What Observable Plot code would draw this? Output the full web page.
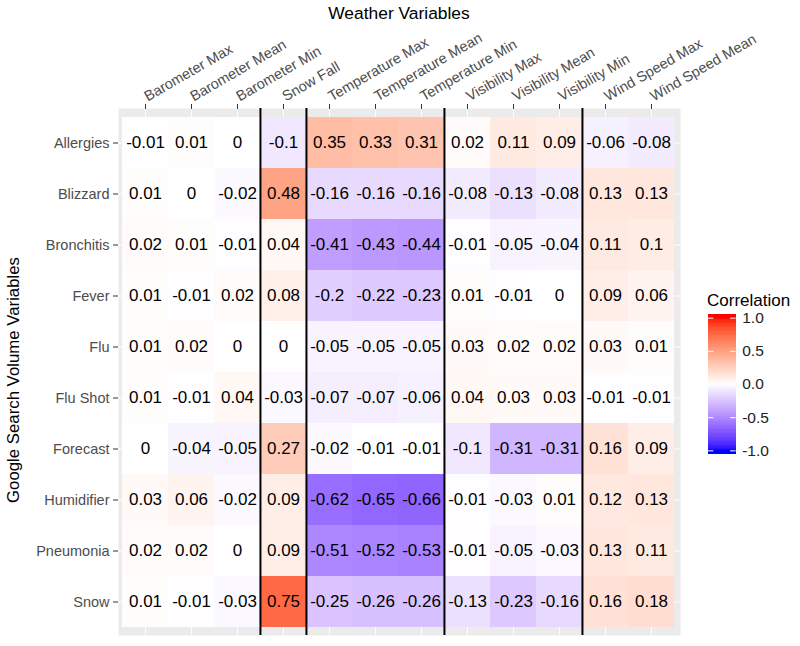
<!DOCTYPE html>
<html><head><meta charset="utf-8">
<script src="https://cdn.jsdelivr.net/npm/d3@7"></script>
<script src="https://cdn.jsdelivr.net/npm/@observablehq/plot@0.6"></script>
<style>
body{margin:0;background:#fff;font-family:"Liberation Sans",Arial,sans-serif;}
#wrap{position:relative;width:800px;height:646px;overflow:hidden;background:#fff}
#wrap svg{position:absolute}
.title{position:absolute;color:#000;white-space:nowrap;}
</style></head>
<body>
<div id="wrap">
  <div class="title" id="xt" style="left:0;width:798px;text-align:center;top:3px;font-size:17.4px;line-height:20px;">Weather Variables</div>
  <div class="title" id="yt" style="left:14px;top:380px;font-size:16.8px;line-height:20px;transform:translate(-50%,-50%) rotate(-90deg);">Google Search Volume Variables</div>
  <div class="title" id="lt" style="left:707px;top:291px;font-size:17px;line-height:20px;">Correlation</div>
</div>
<script>
const columns = ["Barometer Max","Barometer Mean","Barometer Min","Snow Fall","Temperature Max","Temperature Mean","Temperature Min","Visibility Max","Visibility Mean","Visibility Min","Wind Speed Max","Wind Speed Mean"];
const rows = ["Allergies","Blizzard","Bronchitis","Fever","Flu","Flu Shot","Forecast","Humidifier","Pneumonia","Snow"];
const allergies  = [-0.01, 0.01, 0, -0.1, 0.35, 0.33, 0.31, 0.02, 0.11, 0.09, -0.06, -0.08];
const blizzard   = [0.01, 0, -0.02, 0.48, -0.16, -0.16, -0.16, -0.08, -0.13, -0.08, 0.13, 0.13];
const bronchitis = [0.02, 0.01, -0.01, 0.04, -0.41, -0.43, -0.44, -0.01, -0.05, -0.04, 0.11, 0.1];
const fever      = [0.01, -0.01, 0.02, 0.08, -0.2, -0.22, -0.23, 0.01, -0.01, 0, 0.09, 0.06];
const flu        = [0.01, 0.02, 0, 0, -0.05, -0.05, -0.05, 0.03, 0.02, 0.02, 0.03, 0.01];
const fluShot    = [0.01, -0.01, 0.04, -0.03, -0.07, -0.07, -0.06, 0.04, 0.03, 0.03, -0.01, -0.01];
const forecast   = [0, -0.04, -0.05, 0.27, -0.02, -0.01, -0.01, -0.1, -0.31, -0.31, 0.16, 0.09];
const humidifier = [0.03, 0.06, -0.02, 0.09, -0.62, -0.65, -0.66, -0.01, -0.03, 0.01, 0.12, 0.13];
const pneumonia  = [0.02, 0.02, 0, 0.09, -0.51, -0.52, -0.53, -0.01, -0.05, -0.03, 0.13, 0.11];
const snow       = [0.01, -0.01, -0.03, 0.75, -0.25, -0.26, -0.26, -0.13, -0.23, -0.16, 0.16, 0.18];
const groupStarts = ["Snow Fall","Temperature Max","Visibility Max","Wind Speed Max"];
const legendTicks = [-1, -0.5, 0, 0.5, 1];

const rowValues = [allergies, blizzard, bronchitis, fever, flu, fluShot, forecast, humidifier, pneumonia, snow];
const table = [];
rows.forEach((r, i) => columns.forEach((c, j) => table.push({row: r, col: c, value: rowValues[i][j]})));

const colorScale = {type: "linear", domain: [-1, 0, 1], range: ["#0000FF", "#FFFFFF", "#FF0000"], interpolate: "lab", clamp: true};
const font = "'Liberation Sans', Arial, sans-serif";
const W = 800, ML = 118, MR = 120, IL = 3.7, IR = 5;
const bw = (W - ML - MR - IL - IR) / columns.length;

const main = Plot.plot({
  width: W, height: 646,
  marginLeft: ML, marginRight: MR, marginTop: 108, marginBottom: 11,
  style: {fontFamily: font, background: "transparent", overflow: "visible"},
  x: {type: "band", domain: columns, padding: 0, insetLeft: IL, insetRight: IR, axis: null},
  y: {type: "band", domain: rows, padding: 0, insetTop: 5, insetBottom: 4, axis: null},
  color: colorScale,
  marks: [
    Plot.frame({fill: "#EBEBEB", stroke: "none"}),
    Plot.gridX({stroke: "white", strokeOpacity: 1, strokeWidth: 1}),
    Plot.gridY({stroke: "white", strokeOpacity: 1, strokeWidth: 1}),
    Plot.cell(table, {x: "col", y: "row", fill: "value"}),
    Plot.text(table, {x: "col", y: "row", text: d => String(d.value), fontSize: 17, fill: "black"}),
    Plot.ruleX(groupStarts, {dx: -bw / 2, stroke: "black", strokeWidth: 2}),
    Plot.axisX({anchor: "top", tickRotate: -30, textAnchor: "start", tickSize: 5, tickPadding: 6, fontSize: 14.5, stroke: "#333333", fill: "#4D4D4D", label: null}),
    Plot.axisY({anchor: "left", tickSize: 5, tickPadding: 4, fontSize: 14.5, stroke: "#333333", fill: "#4D4D4D", label: null})
  ]
});
main.style.left = "0px"; main.style.top = "0px";
document.getElementById("wrap").appendChild(main);

const legendSteps = d3.range(-1.06, 1.06, 0.02);
const legend = Plot.plot({
  width: 100, height: 174,
  marginLeft: 7.7, marginRight: 64.3, marginTop: 24, marginBottom: 10,
  style: {fontFamily: font, fontSize: "15.5px", background: "transparent", overflow: "visible"},
  x: {domain: [0, 1], axis: null},
  y: {domain: [-1.055, 1.055], axis: null},
  color: colorScale,
  marks: [
    Plot.rect(legendSteps, {x1: 0, x2: 1, y1: d => Math.max(d, -1.055), y2: d => Math.min(d + 0.03, 1.055), fill: d => d + 0.01, shapeRendering: "crispEdges"}),
    Plot.ruleY(legendTicks, {x1: 0, x2: 0.2, stroke: "white", strokeWidth: 1}),
    Plot.ruleY(legendTicks, {x1: 0.8, x2: 1, stroke: "white", strokeWidth: 1}),
    Plot.axisY(legendTicks, {anchor: "right", tickSize: 0, tickPadding: 6, tickFormat: d => d.toFixed(1), fontSize: 15.5, fill: "#222222", label: null})
  ]
});
legend.style.left = "700px"; legend.style.top = "290px";
document.getElementById("wrap").appendChild(legend);
</script>
</body></html>
